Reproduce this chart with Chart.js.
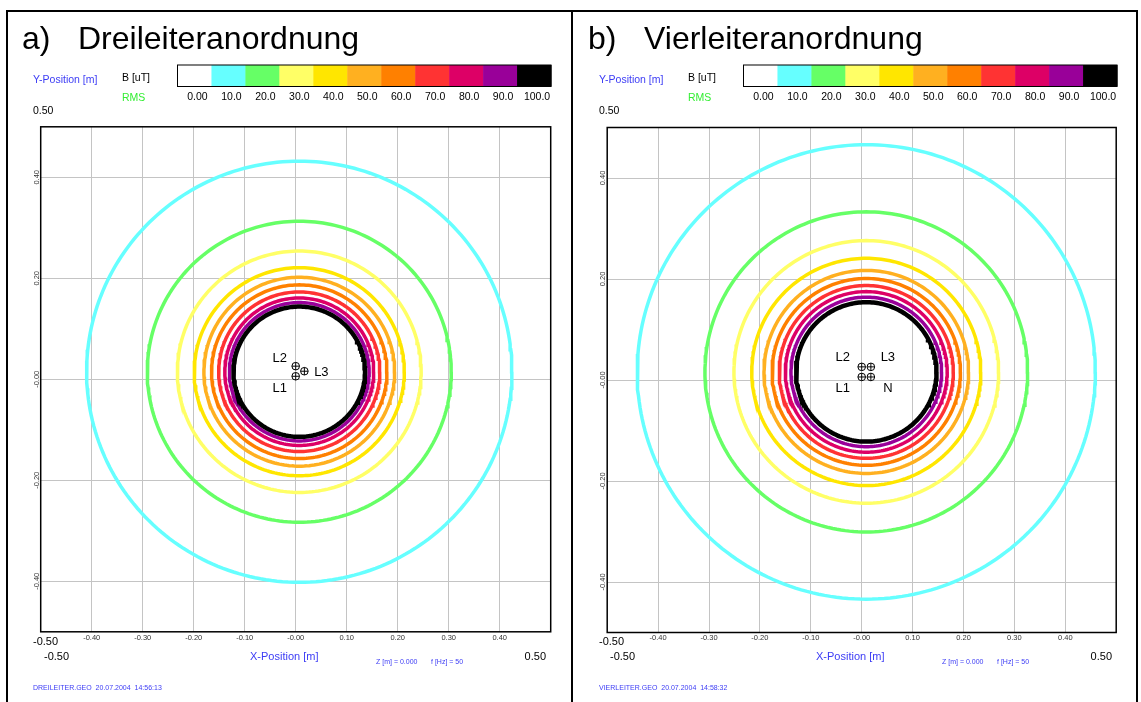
<!DOCTYPE html>
<html>
<head>
<meta charset="utf-8">
<script src="https://cdn.jsdelivr.net/npm/chart.js@4.4.0/dist/chart.umd.min.js"></script>
<style>
  html, body { margin: 0; padding: 0; background: #fff; }
  #chartA { position: absolute; left: 0; top: 0; }
  #chartB { position: absolute; left: 574px; top: 0; }
</style>
</head>
<body>
<canvas id="chartA" width="574" height="702"></canvas>
<canvas id="chartB" width="567" height="702"></canvas>
<script>
// colour scale B [uT]
const levels = [0, 10, 20, 30, 40, 50, 60, 70, 80, 90, 100];
const levelLabels = ['0.00', '10.0', '20.0', '30.0', '40.0', '50.0', '60.0', '70.0', '80.0', '90.0', '100.0'];
const levelColors = ['#FFFFFF', '#66FFFF', '#66FF66', '#FFFF66', '#FFE600', '#FFB020',
                     '#FF8000', '#FF3333', '#DD0066', '#990099', '#000000'];

// axes
const xGrid = [-0.4, -0.3, -0.2, -0.1, 0, 0.1, 0.2, 0.3, 0.4];
const xTickLabels = ['-0.40', '-0.30', '-0.20', '-0.10', '-0.00', '0.10', '0.20', '0.30', '0.40'];
const yGrid = [0.4, 0.2, 0, -0.2, -0.4];
const yTickLabels = ['0.40', '0.20', '-0.00', '-0.20', '-0.40'];

// iso-lines (10..100 uT), radius in m
const ringRadiusA = [0.417, 0.298, 0.239, 0.206, 0.187, 0.172, 0.158, 0.146, 0.137, 0.129];
const ringCenterA = [0.007, 0.015];
const ringRadiusB = [0.450, 0.317, 0.260, 0.225, 0.201, 0.185, 0.171, 0.159, 0.148, 0.138];
const ringCenterB = [0.009, 0.016];

// conductors
const condNamesA = ['L1', 'L2', 'L3'];
const condXA = [0, 0, 0.017];
const condYA = [0.006, 0.026, 0.016];
const condNamesB = ['L1', 'L2', 'L3', 'N'];
const condXB = [0, 0, 0.018, 0.018];
const condYB = [0.006, 0.026, 0.026, 0.006];

// label offsets (px) next to the conductor symbols
const condLabelOffset = {
  A: { L1: [-16, 12], L2: [-16, -8], L3: [17, 1] },
  B: { L1: [-19, 11], L2: [-19, -9], L3: [17, -9], N: [17, 11] }
};

const FONT = '"Liberation Sans", Arial, sans-serif';
const BLUE = '#3c3cf5';

// closed contour through the read radius
function ringPoints(c, r) {
  const pts = [];
  for (let i = 0; i <= 240; i++) {
    const t = i / 240 * 2 * Math.PI;
    pts.push({ x: c[0] + r * Math.cos(t), y: c[1] + r * Math.sin(t) });
  }
  return pts;
}

function buildDatasets(radii, center, cx, cy) {
  const ds = radii.map((r, i) => ({
    label: levelLabels[i + 1],
    data: ringPoints(center, r),
    showLine: true,
    borderColor: levelColors[i + 1],
    borderWidth: i === radii.length - 1 ? 4.5 : 3.5,
    pointRadius: 0,
    fill: false,
    tension: 0,
    order: 20 - i
  }));
  const pts = cx.map((x, i) => ({ x: x, y: cy[i] }));
  // lower order is drawn on top: cross over the white circle
  ds.push({ label: 'cond', data: pts, showLine: false, pointStyle: 'circle', pointRadius: 3.8,
            borderColor: '#000', backgroundColor: '#fff', borderWidth: 1, order: 1 });
  ds.push({ label: 'cross', data: pts, showLine: false, pointStyle: 'cross', pointRadius: 3.8,
            borderColor: '#000', backgroundColor: '#000', borderWidth: 1, order: 0 });
  return ds;
}

function text(ctx, s, x, y, size, color, align) {
  ctx.font = size + 'px ' + FONT;
  ctx.fillStyle = color;
  ctx.textAlign = align || 'left';
  ctx.textBaseline = 'middle';
  ctx.fillText(s, x, y);
}

function decorPlugin(p) {
  return {
    id: 'decor' + p.key,
    afterDatasetsDraw(chart) {
      const ctx = chart.ctx;
      const xs = chart.scales.x, ys = chart.scales.y;
      ctx.save();
      p.names.forEach((n, i) => {
        const off = condLabelOffset[p.key][n];
        text(ctx, n, xs.getPixelForValue(p.cx[i]) + off[0], ys.getPixelForValue(p.cy[i]) + off[1], 13, '#000', 'center');
      });
      ctx.restore();
    },
    afterDraw(chart) {
      const ctx = chart.ctx;
      const a = chart.chartArea;
      const xs = chart.scales.x, ys = chart.scales.y;
      const d = p.dx;
      ctx.save();

      // outer frame
      ctx.strokeStyle = '#000';
      ctx.lineWidth = 2;
      ctx.beginPath();
      if (p.key === 'A') {
        ctx.moveTo(7, 702); ctx.lineTo(7, 11); ctx.lineTo(574, 11);
        ctx.moveTo(572, 11); ctx.lineTo(572, 702);
      } else {
        ctx.moveTo(0, 11); ctx.lineTo(563, 11); ctx.lineTo(563, 702);
      }
      ctx.stroke();

      // plot box
      ctx.lineWidth = 1.5;
      ctx.strokeRect(a.left, a.top, a.right - a.left, a.bottom - a.top);

      // title
      ctx.font = '32px ' + FONT;
      ctx.fillStyle = '#000';
      ctx.textAlign = 'left';
      ctx.textBaseline = 'alphabetic';
      ctx.fillText(p.tag, 22 + d, 49);
      ctx.fillText(p.title, 78 + d, 49);

      // header texts
      text(ctx, 'Y-Position [m]', 33 + d, 80, 10.5, BLUE);
      text(ctx, 'B [uT]', 122 + d, 78, 10.5, '#000');
      text(ctx, 'RMS', 122 + d, 98, 10.5, '#33ee33');
      text(ctx, '0.50', 33 + d, 111, 10.5, '#000');

      // colour bar
      const bx0 = 177.5 + d, bx1 = 551 + d, by0 = 65, by1 = 86.5;
      const cw = (bx1 - bx0) / levels.length;
      levels.forEach((lv, i) => {
        ctx.fillStyle = levelColors[i];
        ctx.fillRect(bx0 + i * cw, by0, cw + 0.5, by1 - by0);
        text(ctx, levelLabels[i], bx0 + (i + 0.5) * cw + 3, 97.5, 10.5, '#000', 'center');
      });
      ctx.strokeStyle = '#000';
      ctx.lineWidth = 1;
      ctx.strokeRect(bx0, by0, bx1 - bx0, by1 - by0);

      // tick labels
      xGrid.forEach((v, i) => {
        text(ctx, xTickLabels[i], xs.getPixelForValue(v), 637.5, 7.5, '#333', 'center');
      });
      yGrid.forEach((v, i) => {
        ctx.save();
        ctx.translate(36.5 + d, ys.getPixelForValue(v));
        ctx.rotate(-Math.PI / 2);
        text(ctx, yTickLabels[i], 0, 0, 7.5, '#333', 'center');
        ctx.restore();
      });

      // footer texts
      text(ctx, '-0.50', 33 + d, 642, 11, '#000');
      text(ctx, '-0.50', 44 + d, 657, 11, '#000');
      text(ctx, 'X-Position [m]', 250 + d, 657, 11, BLUE);
      text(ctx, 'Z [m] = 0.000', 376 + d, 662, 7, BLUE);
      text(ctx, 'f [Hz] = 50', 431 + d, 662, 7, BLUE);
      text(ctx, '0.50', 546 + d, 657, 11, '#000', 'right');
      text(ctx, p.file, 33 + d, 688, 7, BLUE);
      ctx.restore();
    }
  };
}

function makeChart(id, p, radii, center, pad) {
  return new Chart(document.getElementById(id), {
    type: 'scatter',
    data: { datasets: buildDatasets(radii, center, p.cx, p.cy) },
    options: {
      responsive: false,
      animation: false,
      events: [],
      layout: { padding: pad, autoPadding: false },
      plugins: { legend: { display: false }, tooltip: { enabled: false } },
      scales: {
        x: {
          type: 'linear', min: -0.5, max: 0.5,
          ticks: { display: false },
          grid: { color: '#c4c4c4', lineWidth: 1, drawTicks: false },
          border: { display: false },
          afterBuildTicks: axis => { axis.ticks = xGrid.map(v => ({ value: v })); }
        },
        y: {
          type: 'linear', min: -0.5, max: 0.5,
          ticks: { display: false },
          grid: { color: '#c4c4c4', lineWidth: 1, drawTicks: false },
          border: { display: false },
          afterBuildTicks: axis => { axis.ticks = yGrid.map(v => ({ value: v })); }
        }
      }
    },
    plugins: [decorPlugin(p)]
  });
}

const panelA = { key: 'A', dx: 0, tag: 'a)', title: 'Dreileiteranordnung',
  file: 'DREILEITER.GEO  20.07.2004  14:56:13', names: condNamesA, cx: condXA, cy: condYA };
const panelB = { key: 'B', dx: -8, tag: 'b)', title: 'Vierleiteranordnung',
  file: 'VIERLEITER.GEO  20.07.2004  14:58:32', names: condNamesB, cx: condXB, cy: condYB };

makeChart('chartA', panelA, ringRadiusA, ringCenterA, { left: 40.7, right: 23.3, top: 126.8, bottom: 70.2 });
makeChart('chartB', panelB, ringRadiusB, ringCenterB, { left: 33.2, right: 24.8, top: 127.5, bottom: 69.5 });
</script>
</body>
</html>
